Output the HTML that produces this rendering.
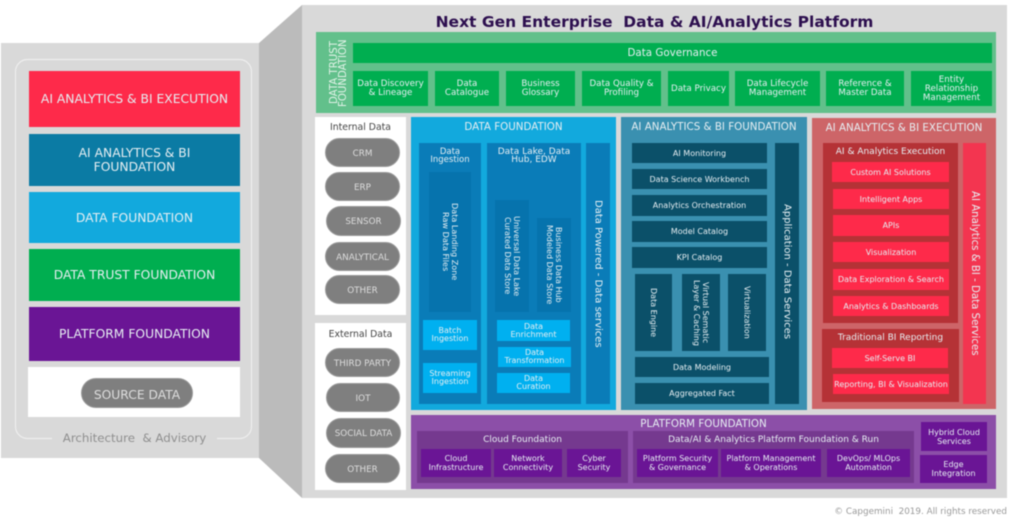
<!DOCTYPE html>
<html><head><meta charset="utf-8"><style>
html,body{margin:0;padding:0;background:#fff}
#p{position:relative;width:1009px;height:525px;overflow:hidden;background:#fff;font-family:"DejaVu Sans","Liberation Sans",sans-serif;filter:blur(.45px)}
#p div{position:absolute;box-sizing:border-box;display:flex;align-items:center;justify-content:center;text-align:center;color:#e6eef2;font-size:8px;line-height:9px}
.v{writing-mode:vertical-rl}
#p .g{background:#00ae50;font-size:8.7px;padding-top:1px}.t{background:#0b5069}.r{background:#fe2a4a}.u{background:#6a1595}.d{background:#0a7cb8}.k{background:#0673ad}#p .c{background:#00b0f0;line-height:8px}
#p .pl{background:#7f7f7f;border-radius:15px;color:#ddd;border:1px solid #999;font-size:8.8px;white-space:pre;padding-top:3px}
#p .h{font-size:10.3px;padding-top:2px}
#p .L{font-size:12.3px;line-height:14px}
#p .sh{align-items:flex-start;padding-top:5px;font-size:9px}
</style></head><body><div id="p">
<svg style="position:absolute;left:0;top:0" width="1009" height="525"><rect x="1" y="43" width="258" height="415" fill="#d9d9d9"/><polygon points="259,43 302,5 302,498 259,458" fill="#bbb"/><rect x="302" y="5" width="705" height="493" fill="#d9d9d9"/><rect x="15.5" y="59.5" width="236" height="379" rx="12" fill="none" stroke="#eee" stroke-width="1.2"/><rect x="52" y="430" width="165" height="16" fill="#d9d9d9"/></svg>

<div class="L" style="left:29px;top:71px;width:211px;height:56px;background:#fe2a4a">AI ANALYTICS &amp; BI EXECUTION</div>
<div class="L" style="left:29px;top:134px;width:211px;height:52px;background:#0b7ba4">AI ANALYTICS &amp; BI<br>FOUNDATION</div>
<div class="L" style="left:29px;top:192px;width:211px;height:51px;background:#12a9dd">DATA FOUNDATION</div>
<div class="L" style="left:29px;top:249px;width:211px;height:52px;background:#00ae50">DATA TRUST FOUNDATION</div>
<div class="L" style="left:29px;top:307px;width:211px;height:54px;background:#6a1595">PLATFORM FOUNDATION</div>
<div style="left:28px;top:367px;width:212px;height:50px;background:#fff"></div>
<div class="pl L" style="left:81px;top:378px;width:112px;height:30px">SOURCE DATA</div>
<div style="left:52px;top:430px;width:165px;height:16px;font-size:11.8px;color:#8f8f8f;white-space:nowrap">Architecture &nbsp;&amp; Advisory</div>

<div style="left:302px;top:12px;width:705px;height:20px;font-size:15.5px;font-weight:bold;color:#2d0f4f;white-space:pre">Next Gen Enterprise  Data &amp; AI/Analytics Platform</div>

<div style="left:316px;top:32px;width:680px;height:81px;background:#62c08b"></div>
<div class="v" style="left:328px;top:38px;width:22px;height:70px;transform:rotate(180deg);font-size:10.2px;line-height:9px;color:#e2f2e8;white-space:nowrap">DATA TRUST<br>FOUNDATION</div>
<div class="g" style="left:353px;top:43px;width:639px;height:20px;font-size:10.3px">Data Governance</div>
<div class="g" style="left:353px;top:71px;width:75px;height:35px">Data Discovery<br>&amp; Lineage</div>
<div class="g" style="left:435px;top:71px;width:64px;height:35px">Data<br>Catalogue</div>
<div class="g" style="left:506px;top:71px;width:69px;height:35px">Business<br>Glossary</div>
<div class="g" style="left:582px;top:71px;width:79px;height:35px">Data Quality &amp;<br>Profiling</div>
<div class="g" style="left:668px;top:71px;width:61px;height:35px">Data Privacy</div>
<div class="g" style="left:735px;top:71px;width:85px;height:35px">Data Lifecycle<br>Management</div>
<div class="g" style="left:826px;top:71px;width:78px;height:35px">Reference &amp;<br>Master Data</div>
<div class="g" style="left:911px;top:71px;width:81px;height:35px">Entity<br>Relationship<br>Management</div>

<div style="left:315px;top:117px;width:91px;height:198px;background:#fff"></div>
<div style="left:315px;top:323px;width:91px;height:167px;background:#fff"></div>
<div style="left:315px;top:121px;width:91px;height:12px;color:#444;font-size:9.3px">Internal Data</div>
<div style="left:315px;top:328px;width:91px;height:12px;color:#444;font-size:9.3px">External Data</div>
<div class="pl" style="left:325px;top:138px;width:75px;height:29px">CRM</div>
<div class="pl" style="left:325px;top:172px;width:75px;height:29px">ERP</div>
<div class="pl" style="left:326px;top:206px;width:75px;height:30px">SENSOR</div>
<div class="pl" style="left:325px;top:242px;width:75px;height:29px">ANALYTICAL</div>
<div class="pl" style="left:325px;top:275px;width:75px;height:29px">OTHER</div>
<div class="pl" style="left:325px;top:348px;width:75px;height:29px">THIRD PARTY</div>
<div class="pl" style="left:326px;top:383px;width:74px;height:29px">IOT</div>
<div class="pl" style="left:326px;top:418px;width:75px;height:30px">SOCIAL DATA</div>
<div class="pl" style="left:325px;top:454px;width:75px;height:29px">OTHER</div>

<div style="left:411px;top:117px;width:205px;height:293px;background:#12a9dd"></div>
<div class="h" style="left:411px;top:119px;width:205px;height:14px">DATA FOUNDATION</div>
<div class="d" style="left:419px;top:143px;width:62px;height:261px;align-items:flex-start;padding-top:5px;font-size:8.5px;line-height:8px">Data<br>Ingestion</div>
<div class="d" style="left:487px;top:143px;width:94px;height:261px;align-items:flex-start;padding-top:5px;font-size:9px;line-height:8px">Data Lake, Data<br>Hub, EDW</div>
<div class="d v" style="left:586px;top:143px;width:24px;height:261px;font-size:10px;white-space:nowrap">Data Powered - Data services</div>
<div class="k v" style="left:429px;top:172px;width:42px;height:140px;font-size:8.1px">Data Landing Zone<br>Raw Data Files</div>
<div class="k v" style="left:495px;top:200px;width:34px;height:112px;font-size:8px;white-space:nowrap">Universal Data Lake<br>Curated Data Store</div>
<div class="k v" style="left:537px;top:218px;width:34px;height:94px;font-size:8px;white-space:nowrap">Business Data Hub<br>Modeled Data Store</div>
<div class="c" style="left:423px;top:320px;width:54px;height:30px">Batch<br>Ingestion</div>
<div class="c" style="left:423px;top:363px;width:54px;height:30px">Streaming<br>Ingestion</div>
<div class="c" style="left:497px;top:320px;width:73px;height:21px">Data<br>Enrichment</div>
<div class="c" style="left:498px;top:347px;width:73px;height:20px">Data<br>Transformation</div>
<div class="c" style="left:497px;top:373px;width:73px;height:20px">Data<br>Curation</div>

<div style="left:621px;top:117px;width:186px;height:293px;background:#3a90b0"></div>
<div class="h" style="left:621px;top:119px;width:186px;height:14px;white-space:nowrap">AI ANALYTICS &amp; BI FOUNDATION</div>
<div class="t" style="left:632px;top:143px;width:135px;height:20px">AI Monitoring</div>
<div class="t" style="left:632px;top:169px;width:135px;height:20px">Data Science Workbench</div>
<div class="t" style="left:632px;top:195px;width:135px;height:21px">Analytics Orchestration</div>
<div class="t" style="left:632px;top:221px;width:135px;height:21px">Model Catalog</div>
<div class="t" style="left:632px;top:247px;width:135px;height:21px">KPI Catalog</div>
<div class="t v" style="left:635px;top:274px;width:37px;height:77px">Data Engine</div>
<div class="t v" style="left:682px;top:274px;width:38px;height:77px">Virtual Sematic<br>Layer &amp; Caching</div>
<div class="t v" style="left:728px;top:274px;width:38px;height:77px">Virtualization</div>
<div class="t" style="left:635px;top:357px;width:134px;height:20px">Data Modeling</div>
<div class="t" style="left:635px;top:383px;width:134px;height:21px">Aggregated Fact</div>
<div class="t v" style="left:775px;top:143px;width:24px;height:261px;font-size:10px;white-space:nowrap;padding-bottom:3px">Application - Data Services</div>

<div style="left:812px;top:118px;width:184px;height:291px;background:#cd6568"></div>
<div class="h" style="left:812px;top:120px;width:184px;height:14px;white-space:nowrap">AI ANALYTICS &amp; BI EXECUTION</div>
<div class="sh" style="left:823px;top:143px;width:135px;height:180px;background:#b53236">AI &amp; Analytics Execution</div>
<div class="r" style="left:832px;top:162px;width:117px;height:20px">Custom AI Solutions</div>
<div class="r" style="left:833px;top:189px;width:116px;height:20px">Intelligent Apps</div>
<div class="r" style="left:833px;top:215px;width:116px;height:21px">APIs</div>
<div class="r" style="left:833px;top:242px;width:116px;height:20px">Visualization</div>
<div class="r" style="left:833px;top:269px;width:116px;height:21px">Data Exploration &amp; Search</div>
<div class="r" style="left:833px;top:296px;width:116px;height:20px">Analytics &amp; Dashboards</div>
<div class="sh" style="left:822px;top:329px;width:137px;height:73px;background:#b53236">Traditional BI Reporting</div>
<div class="r" style="left:832px;top:348px;width:116px;height:20px">Self-Serve BI</div>
<div class="r" style="left:833px;top:374px;width:116px;height:20px;white-space:nowrap">Reporting, BI &amp; Visualization</div>
<div class="v" style="left:963px;top:143px;width:23px;height:261px;background:#f33550;font-size:10.2px;white-space:nowrap">AI Analytics &amp; BI - Data Services</div>

<div style="left:411px;top:415px;width:585px;height:74px;background:#8c4fa8"></div>
<div class="h" style="left:411px;top:416px;width:585px;height:14px">PLATFORM FOUNDATION</div>
<div class="sh" style="left:417px;top:431px;width:211px;height:52px;background:#75398f">Cloud Foundation</div>
<div class="sh" style="left:633px;top:431px;width:281px;height:52px;background:#75398f">Data/AI &amp; Analytics Platform Foundation &amp; Run</div>
<div class="u" style="left:421px;top:449px;width:70px;height:28px">Cloud<br>Infrastructure</div>
<div class="u" style="left:494px;top:449px;width:68px;height:28px">Network<br>Connectivity</div>
<div class="u" style="left:567px;top:449px;width:54px;height:28px">Cyber<br>Security</div>
<div class="u" style="left:637px;top:449px;width:81px;height:28px">Platform Security<br>&amp; Governance</div>
<div class="u" style="left:721px;top:449px;width:100px;height:28px">Platform Management<br>&amp; Operations</div>
<div class="u" style="left:827px;top:449px;width:83px;height:28px">DevOps/ MLOps<br>Automation</div>
<div class="u" style="left:921px;top:422px;width:66px;height:29px">Hybrid Cloud<br>Services</div>
<div class="u" style="left:920px;top:455px;width:67px;height:28px">Edge<br>Integration</div>

<div style="left:800px;top:506px;width:207px;height:12px;justify-content:flex-end;color:#999;font-size:8.8px;white-space:pre">© Capgemini  2019. All rights reserved</div>
</div></body></html>
